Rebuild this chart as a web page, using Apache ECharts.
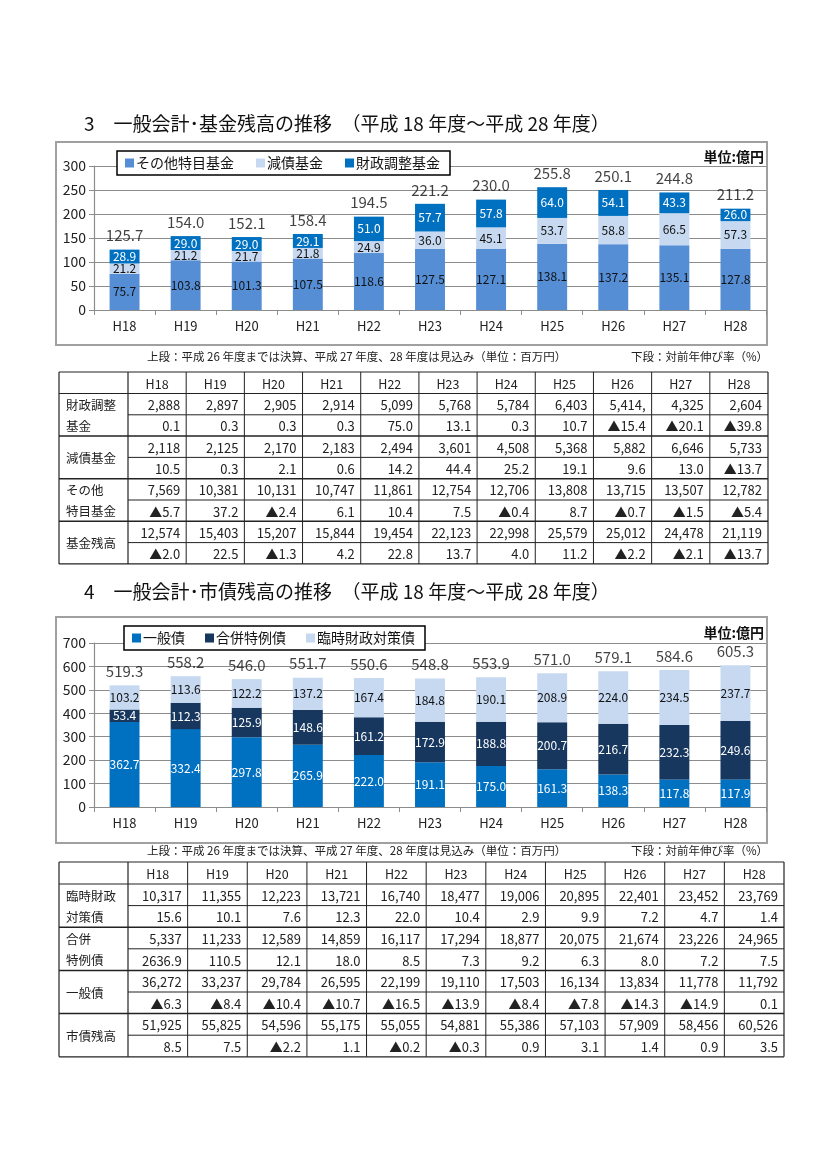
<!DOCTYPE html>
<html>
<head>
<meta charset="utf-8">
<script src="https://cdn.jsdelivr.net/npm/echarts@6/dist/echarts.min.js"></script>
<style>
html,body{margin:0;padding:0;background:#fff;}
#main{width:827px;height:1169px;}
</style>
</head>
<body>
<div id="main"></div>
<script>
// ---------- data ----------
const years = ['H18','H19','H20','H21','H22','H23','H24','H25','H26','H27','H28'];

// Chart 1 (億円)
const fundOther   = [75.7,103.8,101.3,107.5,118.6,127.5,127.1,138.1,137.2,135.1,127.8];
const fundDebt    = [21.2,21.2,21.7,21.8,24.9,36.0,45.1,53.7,58.8,66.5,57.3];
const fundAdjust  = [28.9,29.0,29.0,29.1,51.0,57.7,57.8,64.0,54.1,43.3,26.0];
const fundTotal   = [125.7,154.0,152.1,158.4,194.5,221.2,230.0,255.8,250.1,244.8,211.2];

// Chart 2 (億円)
const bondGeneral = [362.7,332.4,297.8,265.9,222.0,191.1,175.0,161.3,138.3,117.8,117.9];
const bondMerger  = [53.4,112.3,125.9,148.6,161.2,172.9,188.8,200.7,216.7,232.3,249.6];
const bondTemp    = [103.2,113.6,122.2,137.2,167.4,184.8,190.1,208.9,224.0,234.5,237.7];
const bondTotal   = [519.3,558.2,546.0,551.7,550.6,548.8,553.9,571.0,579.1,584.6,605.3];

// Table 1 (百万円 / %)
const t1AdjustAmt  = ['2,888','2,897','2,905','2,914','5,099','5,768','5,784','6,403','5,414,','4,325','2,604'];
const t1AdjustRate = ['0.1','0.3','0.3','0.3','75.0','13.1','0.3','10.7','▲15.4','▲20.1','▲39.8'];
const t1DebtAmt    = ['2,118','2,125','2,170','2,183','2,494','3,601','4,508','5,368','5,882','6,646','5,733'];
const t1DebtRate   = ['10.5','0.3','2.1','0.6','14.2','44.4','25.2','19.1','9.6','13.0','▲13.7'];
const t1OtherAmt   = ['7,569','10,381','10,131','10,747','11,861','12,754','12,706','13,808','13,715','13,507','12,782'];
const t1OtherRate  = ['▲5.7','37.2','▲2.4','6.1','10.4','7.5','▲0.4','8.7','▲0.7','▲1.5','▲5.4'];
const t1TotalAmt   = ['12,574','15,403','15,207','15,844','19,454','22,123','22,998','25,579','25,012','24,478','21,119'];
const t1TotalRate  = ['▲2.0','22.5','▲1.3','4.2','22.8','13.7','4.0','11.2','▲2.2','▲2.1','▲13.7'];

// Table 2 (百万円 / %)
const t2TempAmt    = ['10,317','11,355','12,223','13,721','16,740','18,477','19,006','20,895','22,401','23,452','23,769'];
const t2TempRate   = ['15.6','10.1','7.6','12.3','22.0','10.4','2.9','9.9','7.2','4.7','1.4'];
const t2MergerAmt  = ['5,337','11,233','12,589','14,859','16,117','17,294','18,877','20,075','21,674','23,226','24,965'];
const t2MergerRate = ['2636.9','110.5','12.1','18.0','8.5','7.3','9.2','6.3','8.0','7.2','7.5'];
const t2GenAmt     = ['36,272','33,237','29,784','26,595','22,199','19,110','17,503','16,134','13,834','11,778','11,792'];
const t2GenRate    = ['▲6.3','▲8.4','▲10.4','▲10.7','▲16.5','▲13.9','▲8.4','▲7.8','▲14.3','▲14.9','0.1'];
const t2TotalAmt   = ['51,925','55,825','54,596','55,175','55,055','54,881','55,386','57,103','57,909','58,456','60,526'];
const t2TotalRate  = ['8.5','7.5','▲2.2','1.1','▲0.2','▲0.3','0.9','3.1','1.4','0.9','3.5'];

const title1 = '3　一般会計･基金残高の推移　（平成 18 年度～平成 28 年度）';
const title2 = '4　一般会計･市債残高の推移　（平成 18 年度～平成 28 年度）';
const noteLeft = '上段：平成 26 年度までは決算、平成 27 年度、28 年度は見込み（単位：百万円）';
const noteRight = '下段：対前年伸び率（%）';
const unitLabel = '単位:億円';

// ---------- rendering ----------
const FONT = '"Noto Sans CJK JP", "Noto Sans", sans-serif';
const chart = echarts.init(document.getElementById('main'), null, {renderer:'canvas'});

const graphics = [];
function txt(x, y, text, size, opts) {
  opts = opts || {};
  graphics.push({
    type:'text', silent:true, z: 10,
    style:{
      x:x, y:y, text:text,
      font: (opts.weight||'normal') + ' ' + size + 'px ' + FONT,
      fill: opts.color || '#222',
      textAlign: opts.align || 'left',
      textVerticalAlign: 'middle'
    }
  });
}
function line(x1,y1,x2,y2,w,c) {
  graphics.push({type:'line', silent:true, z: 10,
    shape:{x1:x1,y1:y1,x2:x2,y2:y2},
    style:{stroke:c||'#222', lineWidth:w||1}});
}
function frame(x,y,w,h) {
  graphics.push({type:'rect', silent:true, z:-1,
    shape:{x:x,y:y,width:w,height:h},
    style:{fill:'none', stroke:'#a0a0a0', lineWidth:2}});
}

function buildTable(top, headerH, subH, right, groups) {
  const x0 = 59, x1 = 128;
  const colW = (right - x1) / years.length;
  const bottom = top + headerH + subH * groups.length * 2;
  // outer & header lines
  line(x0, top, right, top, 1.2);
  line(x0, bottom, right, bottom, 1.2);
  line(x0, top, x0, bottom, 1.2);
  line(right, top, right, bottom, 1.2);
  line(x1, top, x1, bottom, 1.2);
  for (let i = 1; i < years.length; i++) {
    const cx = x1 + colW * i;
    line(cx, top, cx, bottom, 1);
  }
  line(x0, top + headerH, right, top + headerH, 1.2);
  years.forEach((y, i) => txt(x1 + colW * (i + 0.5), top + headerH / 2 + 1, y, 12.5, {align:'center'}));
  groups.forEach((g, gi) => {
    const gy = top + headerH + subH * 2 * gi;
    if (gi > 0) line(x0, gy, right, gy, 1.5);
    line(x1, gy + subH, right, gy + subH, 1);
    if (g.label.length === 2) {
      txt(x0 + 7, gy + subH / 2 + 1, g.label[0], 12.5);
      txt(x0 + 7, gy + subH * 1.5 + 1, g.label[1], 12.5);
    } else {
      txt(x0 + 7, gy + subH + 1, g.label[0], 12.5);
    }
    g.amt.forEach((v, i) => txt(x1 + colW * (i + 1) - 6, gy + subH / 2 + 1, v, 13, {align:'right'}));
    g.rate.forEach((v, i) => txt(x1 + colW * (i + 1) - 6, gy + subH * 1.5 + 1, v, 13, {align:'right'}));
  });
}

// titles
txt(84, 124, title1, 19, {color:'#111'});
txt(84, 592, title2, 19, {color:'#111'});
// frames
frame(56, 142, 711, 203);
frame(56, 617, 711, 226);
// unit labels
txt(764, 157, unitLabel, 14, {align:'right', weight:'bold', color:'#111'});
txt(764, 633, unitLabel, 14, {align:'right', weight:'bold', color:'#111'});
// notes
txt(147, 357, noteLeft, 11.5);
txt(768, 357, noteRight, 11.5, {align:'right'});
txt(147, 851, noteLeft, 11.5);
txt(768, 851, noteRight, 11.5, {align:'right'});

buildTable(372, 21.5, 21.3, 768, [
  {label:['財政調整','基金'], amt:t1AdjustAmt, rate:t1AdjustRate},
  {label:['減債基金'], amt:t1DebtAmt, rate:t1DebtRate},
  {label:['その他','特目基金'], amt:t1OtherAmt, rate:t1OtherRate},
  {label:['基金残高'], amt:t1TotalAmt, rate:t1TotalRate}
]);
buildTable(862, 22, 21.6, 784, [
  {label:['臨時財政','対策債'], amt:t2TempAmt, rate:t2TempRate},
  {label:['合併','特例債'], amt:t2MergerAmt, rate:t2MergerRate},
  {label:['一般債'], amt:t2GenAmt, rate:t2GenRate},
  {label:['市債残高'], amt:t2TotalAmt, rate:t2TotalRate}
]);

const axisColor = '#8c8c8c';
function xAxisCfg(gi) {
  return {
    type:'category', gridIndex:gi, data:years,
    axisLine:{lineStyle:{color:axisColor, width:1.2}},
    axisTick:{show:true, alignWithLabel:false, length:5, lineStyle:{color:axisColor}},
    axisLabel:{color:'#222', fontSize:13, fontFamily:FONT, margin:10}
  };
}
function yAxisCfg(gi, max, interval) {
  return {
    type:'value', gridIndex:gi, min:0, max:max, interval:interval,
    axisLine:{show:true, lineStyle:{color:axisColor, width:1.2}},
    axisTick:{show:true, length:5, lineStyle:{color:axisColor}},
    splitLine:{lineStyle:{color:'#8c8c8c', width:1}},
    axisLabel:{color:'#222', fontSize:14, fontFamily:FONT, margin:8}
  };
}
function barSeries(name, data, color, labelColor, xi) {
  return {
    name:name, type:'bar', stack:'s'+xi, xAxisIndex:xi, yAxisIndex:xi,
    data:data, barWidth:'49%',
    itemStyle:{color:color},
    label:{show:true, position:'inside', color:labelColor, fontSize:12, fontFamily:FONT,
      formatter:p => p.value.toFixed(1)}
  };
}
function totalSeries(data, xi) {
  return {
    name:'total'+xi, type:'scatter', xAxisIndex:xi, yAxisIndex:xi, data:data,
    symbolSize:1, itemStyle:{color:'rgba(0,0,0,0)'}, silent:true,
    label:{show:true, position:'top', distance:6, color:'#111', fontSize:15, fontFamily:FONT,
      formatter:p => p.value.toFixed(1)}
  };
}

const option = {
  animation:false,
  backgroundColor:'#fff',
  textStyle:{fontFamily:FONT},
  grid:[
    {left:94, width:672, top:166, height:144},
    {left:94, width:672, top:643, height:164}
  ],
  xAxis:[xAxisCfg(0), xAxisCfg(1)],
  yAxis:[yAxisCfg(0, 300, 50), yAxisCfg(1, 700, 100)],
  legend:[
    {left:117, top:151, data:['その他特目基金','減債基金','財政調整基金'],
     icon:'rect', itemWidth:9, itemHeight:9, itemGap:22,
     padding:[5,10,5,8], borderColor:'#000', borderWidth:1.5, backgroundColor:'#fff',
     textStyle:{fontSize:14, color:'#111', fontFamily:FONT, padding:[0,0,0,-3]}, selectedMode:false, z:5},
    {left:124, top:626, data:['一般債','合併特例債','臨時財政対策債'],
     icon:'rect', itemWidth:9, itemHeight:9, itemGap:20,
     padding:[5,10,5,8], borderColor:'#000', borderWidth:1.5, backgroundColor:'#fff',
     textStyle:{fontSize:14, color:'#111', fontFamily:FONT, padding:[0,0,0,-3]}, selectedMode:false, z:5}
  ],
  series:[
    barSeries('その他特目基金', fundOther, '#558ED5', '#111', 0),
    barSeries('減債基金', fundDebt, '#C6D9F1', '#111', 0),
    barSeries('財政調整基金', fundAdjust, '#0070C0', '#fff', 0),
    totalSeries(fundTotal, 0),
    barSeries('一般債', bondGeneral, '#0070C0', '#fff', 1),
    barSeries('合併特例債', bondMerger, '#17375E', '#fff', 1),
    barSeries('臨時財政対策債', bondTemp, '#C6D9F1', '#111', 1),
    totalSeries(bondTotal, 1)
  ],
  graphic:{elements:graphics}
};
chart.setOption(option);
</script>
</body>
</html>
